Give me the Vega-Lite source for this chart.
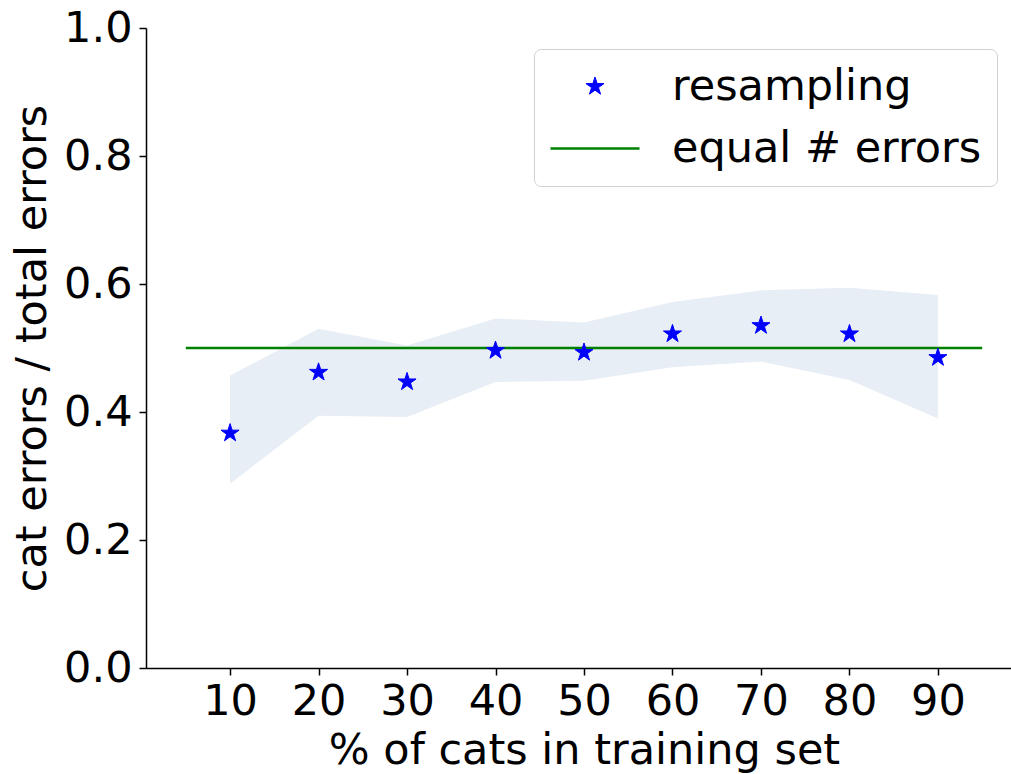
{
  "$schema": "https://vega.github.io/schema/vega-lite/v6.json",
  "width": 876,
  "height": 640,
  "autosize": "none",
  "padding": {"left": 146, "top": 28, "right": 0, "bottom": 106},
  "background": "white",
  "datasets": {
    "resampling": [
      {"pct": 10, "ratio": 0.367, "lo": 0.288, "hi": 0.457, "series": "resampling"},
      {"pct": 20, "ratio": 0.462, "lo": 0.394, "hi": 0.530, "series": "resampling"},
      {"pct": 30, "ratio": 0.447, "lo": 0.392, "hi": 0.504, "series": "resampling"},
      {"pct": 40, "ratio": 0.496, "lo": 0.447, "hi": 0.546, "series": "resampling"},
      {"pct": 50, "ratio": 0.493, "lo": 0.449, "hi": 0.540, "series": "resampling"},
      {"pct": 60, "ratio": 0.522, "lo": 0.470, "hi": 0.572, "series": "resampling"},
      {"pct": 70, "ratio": 0.535, "lo": 0.479, "hi": 0.590, "series": "resampling"},
      {"pct": 80, "ratio": 0.522, "lo": 0.450, "hi": 0.594, "series": "resampling"},
      {"pct": 90, "ratio": 0.485, "lo": 0.390, "hi": 0.583, "series": "resampling"}
    ],
    "equal": [
      {"pct": 5, "ratio": 0.5},
      {"pct": 95, "ratio": 0.5}
    ]
  },
  "encoding": {
    "x": {
      "field": "pct", "type": "quantitative",
      "scale": {"domain": [0.5, 99.5], "nice": false, "zero": false},
      "axis": {
        "title": "% of cats in training set",
        "values": [10, 20, 30, 40, 50, 60, 70, 80, 90],
        "labelPadding": 5,
        "titlePadding": 6
      }
    }
  },
  "layer": [
    {
      "data": {"name": "resampling"},
      "mark": {"type": "area", "color": "#e8eef5", "opacity": 1},
      "encoding": {
        "y": {"field": "lo", "type": "quantitative", "scale": {"domain": [0, 1], "nice": false}},
        "y2": {"field": "hi"}
      }
    },
    {
      "data": {"name": "equal"},
      "mark": {"type": "line", "color": "#008000", "strokeWidth": 2.7},
      "encoding": {
        "y": {"field": "ratio", "type": "quantitative"}
      }
    },
    {
      "data": {"name": "resampling"},
      "mark": {"type": "point", "filled": true, "opacity": 1, "size": 7921, "strokeJoin": "round"},
      "encoding": {
        "y": {
          "field": "ratio", "type": "quantitative",
          "axis": {
            "title": "cat errors / total errors",
            "values": [0, 0.2, 0.4, 0.6, 0.8, 1.0],
            "format": ".1f",
            "labelPadding": 7,
            "titlePadding": 9
          }
        },
        "color": {
          "field": "series", "type": "nominal",
          "scale": {"domain": ["resampling", "equal # errors"], "range": ["#0000ff", "#008000"]},
          "legend": {
            "title": null,
            "orient": "none",
            "legendX": 388,
            "legendY": 21,
            "symbolSize": 7921,
            "symbolOpacity": 1,
            "labelFontSize": 43,
            "labelFont": "DejaVu Sans",
            "labelColor": "black",
            "labelLimit": 600,
            "labelOffset": 31,
            "padding": 15,
            "clipHeight": 45,
            "rowPadding": 17,
            "strokeColor": "#d0d0d0",
            "fillColor": "white",
            "cornerRadius": 7
          }
        },
        "stroke": {
          "field": "series", "type": "nominal",
          "scale": {"domain": ["resampling", "equal # errors"], "range": ["#0000ff", "#008000"]}
        },
        "strokeWidth": {
          "field": "series", "type": "nominal",
          "scale": {"domain": ["resampling", "equal # errors"], "range": [1, 2.7]}
        },
        "shape": {
          "field": "series", "type": "nominal",
          "scale": {
            "domain": ["resampling", "equal # errors"],
            "range": [
              "M0,-0.2135L0.048,-0.066L0.2031,-0.066L0.0776,0.0252L0.1255,0.1727L0,0.0816L-0.1255,0.1727L-0.0776,0.0252L-0.2031,-0.066L-0.048,-0.066Z",
              "M-1,0L1,0"
            ]
          }
        }
      }
    }
  ],
  "config": {
    "view": {"stroke": null},
    "font": "DejaVu Sans",
    "axis": {
      "grid": false,
      "domainColor": "black",
      "domainWidth": 1.5,
      "tickColor": "black",
      "tickWidth": 1.5,
      "tickSize": 7,
      "labelColor": "black",
      "labelFont": "DejaVu Sans",
      "labelFontSize": 43,
      "titleColor": "black",
      "titleFont": "DejaVu Sans",
      "titleFontSize": 43,
      "titleFontWeight": "normal",
      "labelFlush": false,
      "labelOverlap": false
    }
  }
}
